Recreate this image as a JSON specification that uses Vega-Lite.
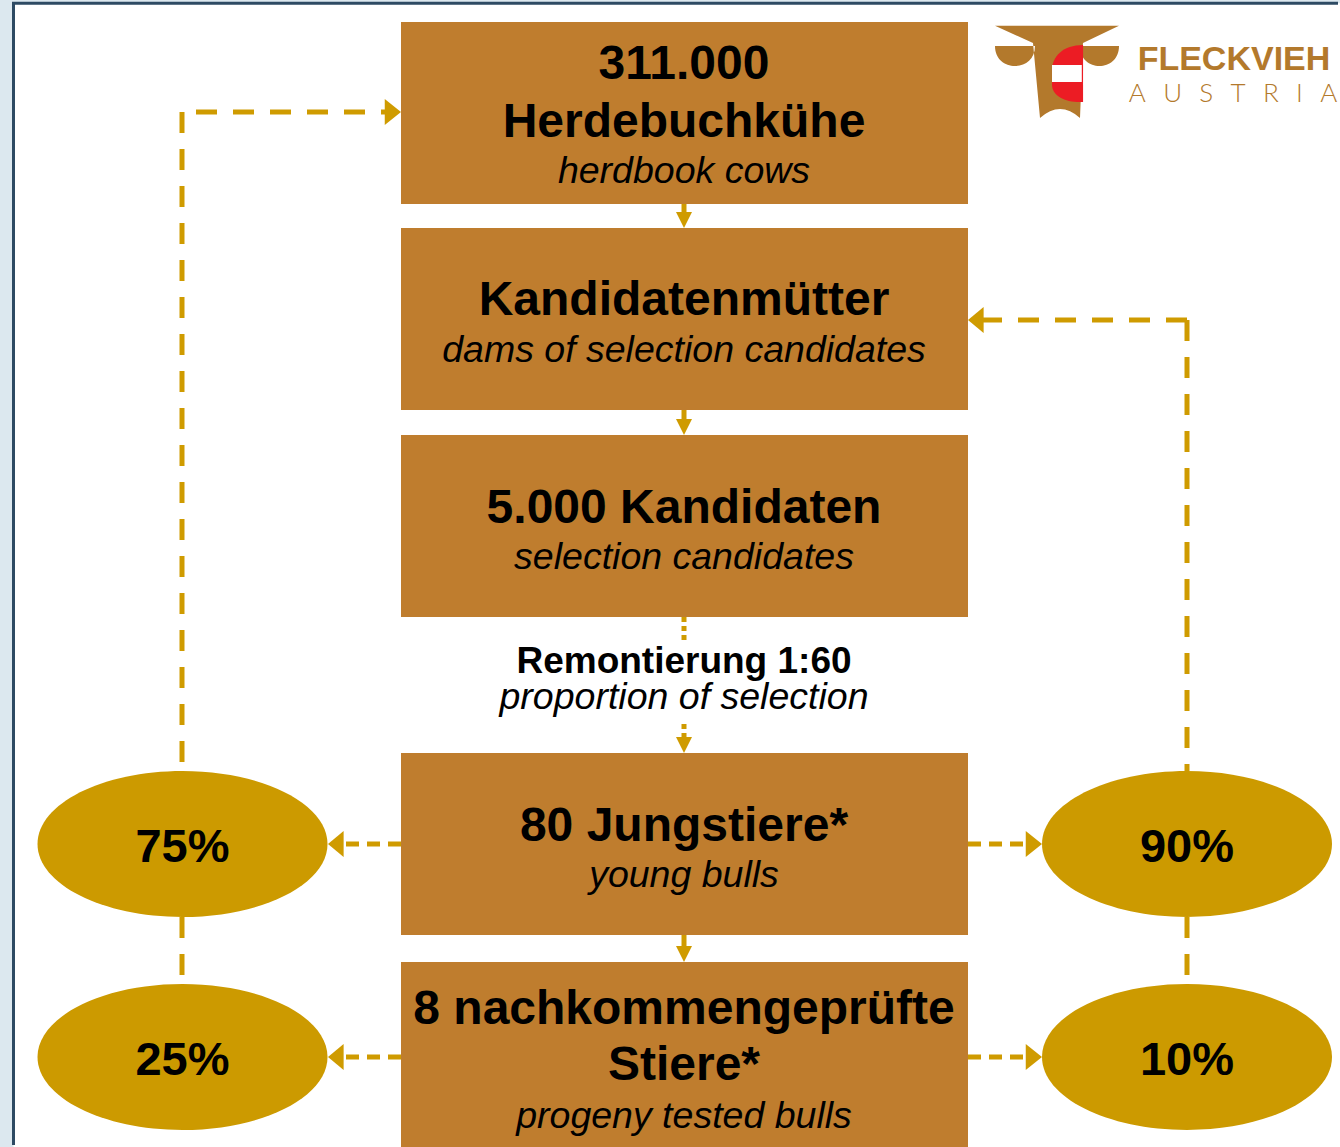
{
  "$schema": "https://vega.github.io/schema/vega-lite/v6.json",
  "width": 1340,
  "height": 1147,
  "autosize": {"type": "fit", "contains": "padding"},
  "padding": 0,
  "background": "#dce8ef",
  "config": {"view": {"stroke": null}},
  "datasets": {
    "panel": [{"x1": 13.5, "x2": 1340, "y1": 3.2, "y2": 1147}],
    "border": [{"x1": 13.5, "y1": 1145, "x2": 13.5, "y2": 3.2}, {"x1": 12, "y1": 3.2, "x2": 1338, "y2": 3.2}],
    "boxes": [
      {"id": "herdbook", "x1": 401, "x2": 968, "y1": 22, "y2": 204},
      {"id": "dams", "x1": 401, "x2": 968, "y1": 228, "y2": 410},
      {"id": "candidates", "x1": 401, "x2": 968, "y1": 435, "y2": 617},
      {"id": "young", "x1": 401, "x2": 968, "y1": 753, "y2": 935},
      {"id": "tested", "x1": 401, "x2": 968, "y1": 962, "y2": 1147}
    ],
    "ellipses": [
      {"x": 182.5, "y": 844, "label": "75%", "ly": 862},
      {"x": 1187, "y": 844, "label": "90%", "ly": 862},
      {"x": 182.5, "y": 1057, "label": "25%", "ly": 1075},
      {"x": 1187, "y": 1057, "label": "10%", "ly": 1075}
    ],
    "longDash": [
      {"x1": 182, "y1": 112, "x2": 182, "y2": 771},
      {"x1": 196, "y1": 112, "x2": 386, "y2": 112},
      {"x1": 1187, "y1": 320, "x2": 1187, "y2": 771},
      {"x1": 1187, "y1": 320, "x2": 983, "y2": 320},
      {"x1": 182, "y1": 917, "x2": 182, "y2": 984},
      {"x1": 1187, "y1": 917, "x2": 1187, "y2": 984}
    ],
    "shortDash": [
      {"x1": 401, "y1": 844, "x2": 343, "y2": 844},
      {"x1": 968, "y1": 844, "x2": 1026, "y2": 844},
      {"x1": 401, "y1": 1057, "x2": 343, "y2": 1057},
      {"x1": 968, "y1": 1057, "x2": 1026, "y2": 1057}
    ],
    "solid": [
      {"x1": 684, "y1": 204, "x2": 684, "y2": 214},
      {"x1": 684, "y1": 410, "x2": 684, "y2": 421},
      {"x1": 684, "y1": 935, "x2": 684, "y2": 948}
    ],
    "dotted": [
      {"x1": 684, "y1": 617, "x2": 684, "y2": 640},
      {"x1": 684, "y1": 724, "x2": 684, "y2": 740}
    ],
    "bigArrows": [
      {"x": 401, "y": 112, "dir": "right"},
      {"x": 968, "y": 320, "dir": "left"},
      {"x": 328, "y": 844, "dir": "left"},
      {"x": 1042, "y": 844, "dir": "right"},
      {"x": 328, "y": 1057, "dir": "left"},
      {"x": 1042, "y": 1057, "dir": "right"}
    ],
    "downArrows": [
      {"x": 684, "y": 228}, {"x": 684, "y": 435}, {"x": 684, "y": 753}, {"x": 684, "y": 962}
    ],
    "texts": [
      {"x": 684, "y": 79, "text": "311.000", "role": "title"},
      {"x": 684, "y": 137, "text": "Herdebuchkühe", "role": "title"},
      {"x": 684, "y": 183, "text": "herdbook cows", "role": "sub"},
      {"x": 684, "y": 315, "text": "Kandidatenmütter", "role": "title"},
      {"x": 684, "y": 362, "text": "dams of selection candidates", "role": "sub"},
      {"x": 684, "y": 523, "text": "5.000 Kandidaten", "role": "title"},
      {"x": 684, "y": 569, "text": "selection candidates", "role": "sub"},
      {"x": 684, "y": 673, "text": "Remontierung 1:60", "role": "mid"},
      {"x": 684, "y": 709, "text": "proportion of selection", "role": "sub"},
      {"x": 684, "y": 841, "text": "80 Jungstiere*", "role": "title"},
      {"x": 684, "y": 887, "text": "young bulls", "role": "sub"},
      {"x": 684, "y": 1024, "text": "8 nachkommengeprüfte", "role": "title"},
      {"x": 684, "y": 1080, "text": "Stiere*", "role": "title"},
      {"x": 684, "y": 1128, "text": "progeny tested bulls", "role": "sub"}
    ],
    "logo": [{"x": 1057, "y": 72}],
    "logoText": [
      {"x": 1234, "y": 70, "text": "FLECKVIEH", "role": "name"},
      {"x": 1233, "y": 102, "text": "A\u2002\u2006U\u2002\u2006S\u2002\u2006T\u2002\u2006R\u2002\u2006I\u2002\u2006A", "role": "country"}
    ]
  },
  "encoding": {},
  "layer": [
    {
      "data": {"name": "panel"},
      "mark": {"type": "rect", "color": "#ffffff"},
      "encoding": {
        "x": {"field": "x1", "type": "quantitative", "scale": {"domain": [0, 1340], "nice": false, "zero": false}, "axis": null},
        "x2": {"field": "x2"},
        "y": {"field": "y1", "type": "quantitative", "scale": {"domain": [0, 1147], "reverse": true, "nice": false, "zero": false}, "axis": null},
        "y2": {"field": "y2"}
      }
    },
    {
      "data": {"name": "border"},
      "mark": {"type": "rule", "color": "#2d4a63", "strokeWidth": 3},
      "encoding": {
        "x": {"field": "x1", "type": "quantitative", "scale": {"domain": [0, 1340], "nice": false, "zero": false}, "axis": null},
        "x2": {"field": "x2"},
        "y": {"field": "y1", "type": "quantitative", "scale": {"domain": [0, 1147], "reverse": true, "nice": false, "zero": false}, "axis": null},
        "y2": {"field": "y2"}
      }
    },
    {
      "data": {"name": "boxes"},
      "mark": {"type": "rect", "color": "#bf7d2e"},
      "encoding": {
        "x": {"field": "x1", "type": "quantitative", "scale": {"domain": [0, 1340], "nice": false, "zero": false}, "axis": null},
        "x2": {"field": "x2"},
        "y": {"field": "y1", "type": "quantitative", "scale": {"domain": [0, 1147], "reverse": true, "nice": false, "zero": false}, "axis": null},
        "y2": {"field": "y2"}
      }
    },
    {
      "data": {"name": "longDash"},
      "mark": {"type": "rule", "color": "#cf9b00", "strokeWidth": 5, "strokeDash": [21, 16]},
      "encoding": {
        "x": {"field": "x1", "type": "quantitative", "scale": {"domain": [0, 1340], "nice": false, "zero": false}, "axis": null},
        "x2": {"field": "x2"},
        "y": {"field": "y1", "type": "quantitative", "scale": {"domain": [0, 1147], "reverse": true, "nice": false, "zero": false}, "axis": null},
        "y2": {"field": "y2"}
      }
    },
    {
      "data": {"name": "shortDash"},
      "mark": {"type": "rule", "color": "#cf9b00", "strokeWidth": 5, "strokeDash": [13, 8]},
      "encoding": {
        "x": {"field": "x1", "type": "quantitative", "scale": {"domain": [0, 1340], "nice": false, "zero": false}, "axis": null},
        "x2": {"field": "x2"},
        "y": {"field": "y1", "type": "quantitative", "scale": {"domain": [0, 1147], "reverse": true, "nice": false, "zero": false}, "axis": null},
        "y2": {"field": "y2"}
      }
    },
    {
      "data": {"name": "solid"},
      "mark": {"type": "rule", "color": "#cf9b00", "strokeWidth": 5},
      "encoding": {
        "x": {"field": "x1", "type": "quantitative", "scale": {"domain": [0, 1340], "nice": false, "zero": false}, "axis": null},
        "x2": {"field": "x2"},
        "y": {"field": "y1", "type": "quantitative", "scale": {"domain": [0, 1147], "reverse": true, "nice": false, "zero": false}, "axis": null},
        "y2": {"field": "y2"}
      }
    },
    {
      "data": {"name": "dotted"},
      "mark": {"type": "rule", "color": "#cf9b00", "strokeWidth": 5, "strokeDash": [5, 4]},
      "encoding": {
        "x": {"field": "x1", "type": "quantitative", "scale": {"domain": [0, 1340], "nice": false, "zero": false}, "axis": null},
        "x2": {"field": "x2"},
        "y": {"field": "y1", "type": "quantitative", "scale": {"domain": [0, 1147], "reverse": true, "nice": false, "zero": false}, "axis": null},
        "y2": {"field": "y2"}
      }
    },
    {
      "data": {"name": "ellipses"},
      "mark": {"type": "point", "filled": true, "opacity": 1, "strokeWidth": 0, "color": "#cc9a00", "size": 84100,
        "shape": "M-1,0C-1,-0.2778 -0.5523,-0.503 0,-0.503C0.5523,-0.503 1,-0.2778 1,0C1,0.2778 0.5523,0.503 0,0.503C-0.5523,0.503 -1,0.2778 -1,0Z"},
      "encoding": {
        "x": {"field": "x", "type": "quantitative", "scale": {"domain": [0, 1340], "nice": false, "zero": false}, "axis": null},
        "y": {"field": "y", "type": "quantitative", "scale": {"domain": [0, 1147], "reverse": true, "nice": false, "zero": false}, "axis": null}
      }
    },
    {
      "data": {"name": "ellipses"},
      "mark": {"type": "text", "font": "Liberation Sans", "fontWeight": "bold", "fontSize": 47, "color": "#000000", "align": "center", "baseline": "alphabetic"},
      "encoding": {
        "x": {"field": "x", "type": "quantitative", "scale": {"domain": [0, 1340], "nice": false, "zero": false}, "axis": null},
        "y": {"field": "ly", "type": "quantitative", "scale": {"domain": [0, 1147], "reverse": true, "nice": false, "zero": false}, "axis": null},
        "text": {"field": "label"}
      }
    },
    {
      "data": {"name": "bigArrows"},
      "mark": {"type": "point", "filled": true, "opacity": 1, "strokeWidth": 0, "color": "#cf9b00", "size": 676},
      "encoding": {
        "x": {"field": "x", "type": "quantitative", "scale": {"domain": [0, 1340], "nice": false, "zero": false}, "axis": null},
        "y": {"field": "y", "type": "quantitative", "scale": {"domain": [0, 1147], "reverse": true, "nice": false, "zero": false}, "axis": null},
        "shape": {"field": "dir", "type": "nominal", "legend": null,
          "scale": {"domain": ["right", "left"], "range": ["M0,0L-1.25,-1L-1.25,1Z", "M0,0L1.2,-1L1.2,1Z"]}}
      }
    },
    {
      "data": {"name": "downArrows"},
      "mark": {"type": "point", "filled": true, "opacity": 1, "strokeWidth": 0, "color": "#cf9b00", "size": 256,
        "shape": "M0,0L-1,-2L1,-2Z"},
      "encoding": {
        "x": {"field": "x", "type": "quantitative", "scale": {"domain": [0, 1340], "nice": false, "zero": false}, "axis": null},
        "y": {"field": "y", "type": "quantitative", "scale": {"domain": [0, 1147], "reverse": true, "nice": false, "zero": false}, "axis": null}
      }
    },
    {
      "data": {"name": "texts"},
      "transform": [{"filter": {"field": "role", "equal": "title"}}],
      "mark": {"type": "text", "font": "Liberation Sans", "fontWeight": "bold", "fontSize": 48, "color": "#000000", "align": "center", "baseline": "alphabetic"},
      "encoding": {
        "x": {"field": "x", "type": "quantitative", "scale": {"domain": [0, 1340], "nice": false, "zero": false}, "axis": null},
        "y": {"field": "y", "type": "quantitative", "scale": {"domain": [0, 1147], "reverse": true, "nice": false, "zero": false}, "axis": null},
        "text": {"field": "text"}
      }
    },
    {
      "data": {"name": "texts"},
      "transform": [{"filter": {"field": "role", "equal": "mid"}}],
      "mark": {"type": "text", "font": "Liberation Sans", "fontWeight": "bold", "fontSize": 37, "color": "#000000", "align": "center", "baseline": "alphabetic"},
      "encoding": {
        "x": {"field": "x", "type": "quantitative", "scale": {"domain": [0, 1340], "nice": false, "zero": false}, "axis": null},
        "y": {"field": "y", "type": "quantitative", "scale": {"domain": [0, 1147], "reverse": true, "nice": false, "zero": false}, "axis": null},
        "text": {"field": "text"}
      }
    },
    {
      "data": {"name": "texts"},
      "transform": [{"filter": {"field": "role", "equal": "sub"}}],
      "mark": {"type": "text", "font": "Liberation Sans", "fontStyle": "italic", "fontSize": 37.5, "color": "#000000", "align": "center", "baseline": "alphabetic"},
      "encoding": {
        "x": {"field": "x", "type": "quantitative", "scale": {"domain": [0, 1340], "nice": false, "zero": false}, "axis": null},
        "y": {"field": "y", "type": "quantitative", "scale": {"domain": [0, 1147], "reverse": true, "nice": false, "zero": false}, "axis": null},
        "text": {"field": "text"}
      }
    },
    {
      "data": {"name": "logo"},
      "mark": {"type": "point", "filled": true, "opacity": 1, "strokeWidth": 0, "color": "#b3792c", "size": 15376,
        "shape": "M-1,-0.747L1,-0.747L0.419,-0.468L0.371,0.742Q0.05,0.45 -0.274,0.742L-0.387,-0.468Z M-1,-0.419C-1,0.012 -0.355,0.012 -0.355,-0.419Z M0.371,-0.419C0.371,0.012 1,0.012 1,-0.419Z"},
      "encoding": {
        "x": {"field": "x", "type": "quantitative", "scale": {"domain": [0, 1340], "nice": false, "zero": false}, "axis": null},
        "y": {"field": "y", "type": "quantitative", "scale": {"domain": [0, 1147], "reverse": true, "nice": false, "zero": false}, "axis": null}
      }
    },
    {
      "data": {"name": "logo"},
      "mark": {"type": "point", "filled": true, "opacity": 1, "strokeWidth": 0, "color": "#ec1c24", "size": 15376,
        "shape": "M0.42,-0.435C0.1,-0.435 -0.081,-0.25 -0.081,-0.03L-0.081,0.2C-0.081,0.38 0.12,0.484 0.37,0.484L0.42,0.484Z"},
      "encoding": {
        "x": {"field": "x", "type": "quantitative", "scale": {"domain": [0, 1340], "nice": false, "zero": false}, "axis": null},
        "y": {"field": "y", "type": "quantitative", "scale": {"domain": [0, 1147], "reverse": true, "nice": false, "zero": false}, "axis": null}
      }
    },
    {
      "data": {"name": "logo"},
      "mark": {"type": "point", "filled": true, "opacity": 1, "strokeWidth": 0, "color": "#ffffff", "size": 15376,
        "shape": "M-0.081,-0.113L0.4,-0.113L0.4,0.161L-0.081,0.161Z"},
      "encoding": {
        "x": {"field": "x", "type": "quantitative", "scale": {"domain": [0, 1340], "nice": false, "zero": false}, "axis": null},
        "y": {"field": "y", "type": "quantitative", "scale": {"domain": [0, 1147], "reverse": true, "nice": false, "zero": false}, "axis": null}
      }
    },
    {
      "data": {"name": "logoText"},
      "transform": [{"filter": {"field": "role", "equal": "name"}}],
      "mark": {"type": "text", "font": "Liberation Sans", "fontWeight": "bold", "fontSize": 34, "color": "#b3792c", "align": "center", "baseline": "alphabetic"},
      "encoding": {
        "x": {"field": "x", "type": "quantitative", "scale": {"domain": [0, 1340], "nice": false, "zero": false}, "axis": null},
        "y": {"field": "y", "type": "quantitative", "scale": {"domain": [0, 1147], "reverse": true, "nice": false, "zero": false}, "axis": null},
        "text": {"field": "text"}
      }
    },
    {
      "data": {"name": "logoText"},
      "transform": [{"filter": {"field": "role", "equal": "country"}}],
      "mark": {"type": "text", "font": "Lato", "fontWeight": 300, "fontSize": 26, "color": "#b3792c", "align": "center", "baseline": "alphabetic"},
      "encoding": {
        "x": {"field": "x", "type": "quantitative", "scale": {"domain": [0, 1340], "nice": false, "zero": false}, "axis": null},
        "y": {"field": "y", "type": "quantitative", "scale": {"domain": [0, 1147], "reverse": true, "nice": false, "zero": false}, "axis": null},
        "text": {"field": "text"}
      }
    }
  ]
}
